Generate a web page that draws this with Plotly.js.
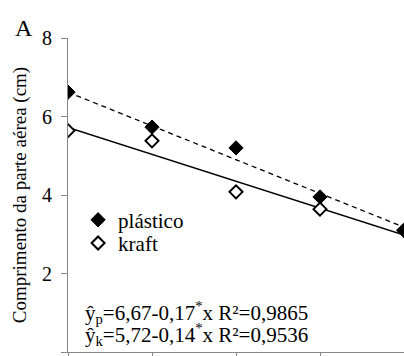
<!DOCTYPE html>
<html>
<head>
<meta charset="utf-8">
<script src="https://cdn.plot.ly/plotly-3.0.1.min.js"></script>
<style>html,body{margin:0;padding:0;background:#fff;}#chart{width:404px;height:356px;}</style>
</head>
<body>
<div id="chart"></div>
<script>
// Data
var xValues = [0, 5, 10, 15, 20];
var plastico = [6.62, 5.73, 5.20, 3.95, 3.10];
var kraft = [5.64, 5.38, 4.08, 3.64, 3.10];
var trendX = [0, 20];
var trendPlastico = [6.62, 3.18];
var trendKraft = [5.72, 2.98];
var yTicks = [0, 2, 4, 6, 8];
var seriesNames = ["plástico", "kraft"];
var eqPlastico = "ŷ<sub>p</sub>=6,67-0,17<sup>*</sup>x R²=0,9865";
var eqKraft = "ŷ<sub>k</sub>=5,72-0,14<sup>*</sup>x R²=0,9536";

var FONT = "Liberation Serif";
var AXIS = "#868686";

var traces = [
  {x: trendX, y: trendKraft, mode: "lines", line: {color: "#000", width: 1.3}, showlegend: false, hoverinfo: "skip"},
  {x: trendX, y: trendPlastico, mode: "lines", line: {color: "#000", width: 1.3, dash: "5px,4px"}, showlegend: false, hoverinfo: "skip"},
  {x: xValues, y: kraft, mode: "markers", name: seriesNames[1], legend: "legend2",
   marker: {symbol: "diamond", size: 10, color: "#fff", line: {color: "#000", width: 2}}},
  {x: xValues, y: plastico, mode: "markers", name: seriesNames[0], legend: "legend",
   marker: {symbol: "diamond", size: 11, color: "#000", line: {color: "#000", width: 1}}}
];

var legendBase = {xanchor: "left", yanchor: "middle", font: {family: FONT, size: 21, color: "#000"},
                  bgcolor: "rgba(0,0,0,0)", itemwidth: 30, borderwidth: 0};

var layout = {
  width: 404, height: 356,
  margin: {l: 68, r: 0, t: 38, b: 4, pad: 0},
  paper_bgcolor: "#fff", plot_bgcolor: "#fff",
  font: {family: FONT, size: 20, color: "#000"},
  showlegend: true,
  legend: Object.assign({}, legendBase, {x: 0.03, y: 0.42}),
  legend2: Object.assign({}, legendBase, {x: 0.03, y: 0.346}),
  xaxis: {range: [0, 20], showgrid: false, zeroline: false, showline: true, linecolor: AXIS, linewidth: 1,
          ticks: "outside", ticklen: 5, tickcolor: AXIS, tickvals: xValues, showticklabels: false, automargin: false},
  yaxis: {range: [0, 8], tickvals: yTicks, showgrid: false, zeroline: false, showline: true, linecolor: AXIS, linewidth: 1,
          ticks: "outside", ticklen: 6, tickcolor: AXIS, ticklabelstandoff: 5,
          tickfont: {family: FONT, size: 20, color: "#000"}, automargin: false,
          title: {text: "Comprimento da parte aérea (cm)", font: {family: FONT, size: 19, color: "#000"}, standoff: 10}},
  annotations: [
    {text: "A", xref: "paper", yref: "paper", x: -0.13, y: 1.0, xanchor: "center", yanchor: "bottom", yshift: -5,
     showarrow: false, font: {family: FONT, size: 24, color: "#000"}},
    {text: eqPlastico, xref: "x", yref: "y", x: 0.9, y: 1.0, xanchor: "left", yanchor: "middle",
     showarrow: false, font: {family: FONT, size: 21, color: "#000"}},
    {text: eqKraft, xref: "x", yref: "y", x: 0.9, y: 0.44, xanchor: "left", yanchor: "middle",
     showarrow: false, font: {family: FONT, size: 21, color: "#000"}}
  ]
};

Plotly.newPlot("chart", traces, layout, {displayModeBar: false, staticPlot: true});
</script>
</body>
</html>
